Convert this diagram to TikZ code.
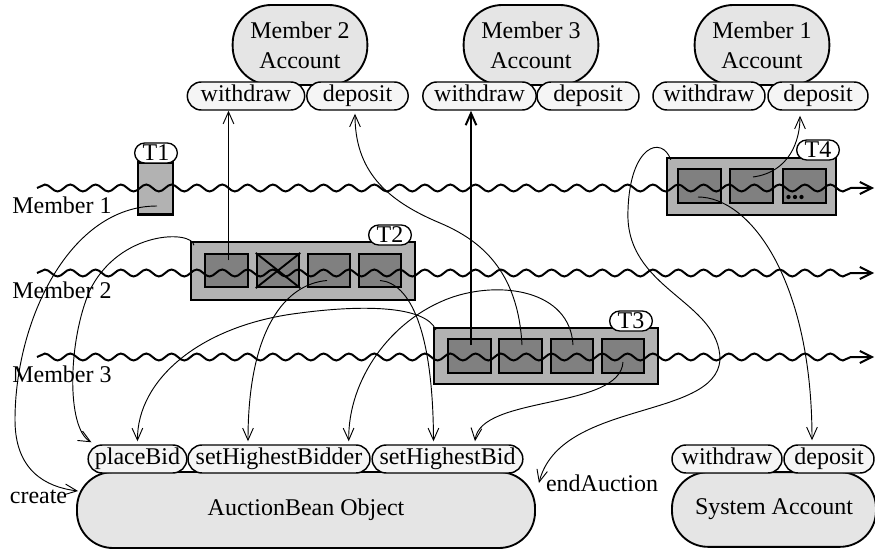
\documentclass[tikz,border=0pt]{standalone}
\usepackage{fontspec}
\setmainfont{Liberation Serif}
\usetikzlibrary{arrows.meta,decorations.pathmorphing,calc}

\definecolor{acctgray}{gray}{0.9}
\definecolor{methgray}{gray}{0.96}
\definecolor{txgray}{gray}{0.7}
\definecolor{opgray}{gray}{0.5}

\tikzset{
  acct/.style={draw, line width=1.4pt, fill=acctgray, rounded corners=29pt, align=center, inner sep=0pt},
  meth/.style={draw, line width=1.1pt, fill=methgray, rounded corners=10.5pt, inner sep=0pt, minimum height=21pt, text height=12.5pt, text depth=4pt},
  txbox/.style={draw, line width=1.6pt, fill=txgray, inner sep=0pt},
  opbox/.style={draw, line width=1.4pt, fill=opgray, inner sep=0pt, minimum width=32pt, minimum height=25pt},
  txlabel/.style={draw, line width=1pt, fill=white, rounded corners=7.5pt, inner sep=0pt, minimum width=32pt, minimum height=15pt, text height=12.5pt, text depth=1pt},
  thread/.style={line width=1.5pt, decorate, decoration={snake, segment length=19pt, amplitude=2.6pt, post length=8pt}, -{Straight Barb[length=9pt,width=9pt]}},
  call/.style={line width=0.7pt, -{Straight Barb[length=9pt,width=8pt]}},
}

\begin{document}
\begin{tikzpicture}[x=0.75pt, y=-0.75pt, font=\fontsize{18}{22.5}\selectfont]
  \useasboundingbox (0,0) rectangle (875,549);
  % Comptes et objet
  \node[acct, minimum width=101pt, minimum height=60pt] (m2acc) at (300,45) {Member 2\\Account};
  \node[acct, minimum width=101pt, minimum height=60pt] (m3acc) at (531,45) {Member 3\\Account};
  \node[acct, minimum width=101pt, minimum height=60pt] (m1acc) at (762,45) {Member 1\\Account};
  \node[acct, rounded corners=27pt, minimum width=343.5pt, minimum height=57pt] (ab) at (306,510) {AuctionBean Object};
  \node[acct, rounded corners=27pt, minimum width=153pt, minimum height=56pt] (sys) at (774,509.5) {System Account};
  % Methodes
  \node[meth, minimum width=88pt] (m2w) at (246,96) {withdraw};
  \node[meth, minimum width=76pt] (m2d) at (357.5,96) {deposit};
  \node[meth, minimum width=85pt] (m3w) at (479.5,96) {withdraw};
  \node[meth, minimum width=76.5pt] (m3d) at (588,96) {deposit};
  \node[meth, minimum width=84pt] (m1w) at (709,96) {withdraw};
  \node[meth, minimum width=75pt] (m1d) at (818,96) {deposit};
  \node[meth, minimum width=74pt] (pb) at (137.5,459) {placeBid};
  \node[meth, minimum width=136.5pt] (shbr) at (279,459) {setHighestBidder};
  \node[meth, minimum width=113pt] (shbid) at (447.5,459) {setHighestBid};
  \node[meth, minimum width=82.5pt] (sw) at (727,459) {withdraw};
  \node[meth, minimum width=67.5pt] (sd) at (829,459) {deposit};
  % Transactions
  \node[txbox, minimum width=26pt, minimum height=39pt] (t1) at (155.5,188.5) {};
  \node[txbox, minimum width=168pt, minimum height=43pt] (t2) at (303,271) {};
  \node[txbox, minimum width=168pt, minimum height=42pt] (t3) at (546,356) {};
  \node[txbox, minimum width=127pt, minimum height=43pt] (t4) at (751.5,186.5) {};
  \foreach \n/\x in {a/226.5, b/278, c/329, d/380} {
    \node[opbox] (t2\n) at (\x,270.5) {};
  }
  \foreach \n/\x in {a/469.5, b/520.5, c/572, d/623} {
    \node[opbox] (t3\n) at (\x,356) {};
  }
  \foreach \n/\x in {a/699.5, b/751.5, c/804.5} {
    \node[opbox] (t4\n) at (\x,186) {};
  }
  \draw[line width=1.4pt] (t2b.north west) -- (t2b.south east) (t2b.north east) -- (t2b.south west);
  \foreach \dx in {-16,-9.5,-3} {
    \fill ($(t4c)+(\dx,11)$) circle (1.6pt);
  }
  \node[txlabel] (t1lbl) at (156,153) {T1};
  \node[txlabel] (t2lbl) at (390,235) {T2};
  \node[txlabel] (t3lbl) at (631,321) {T3};
  \node[txlabel] (t4lbl) at (818,150) {T4};
  % Fils d'execution
  \coordinate (m1s) at (37,188); \coordinate (m1e) at (874,188);
  \coordinate (m2s) at (37,273); \coordinate (m2e) at (874,273);
  \coordinate (m3s) at (37,357); \coordinate (m3e) at (874,357);
  \draw[thread] (m1s) -- (m1e);
  \draw[thread] (m2s) -- (m2e);
  \draw[thread] (m3s) -- (m3e);
  \node[anchor=west, inner sep=0pt] (m1lbl) at (12,205) {Member 1};
  \node[anchor=west, inner sep=0pt] (m2lbl) at (12,290) {Member 2};
  \node[anchor=west, inner sep=0pt] (m3lbl) at (12,374) {Member 3};
  \node (crlbl) at (38.5,497) {create};
  \node (ealbl) at (602,483) {endAuction};
  % Appels
  \coordinate (c1) at ($(t1)+(1.5,17.5)$);
  \draw[call] (c1) .. controls (70,206) and (15,320) .. (15,420) .. controls (15,470) and (45,487) .. ($(ab.west)+(2,-19)$);
  \coordinate (c2) at ($(t2.north west)+(4,4)$);
  \draw[call] (c2) .. controls (192,230) and (120,230) .. (90,290) .. controls (68,340) and (66,428) .. ($(pb.north west)+(4,-2)$);
  \coordinate (c3) at ($(t2a)+(2,-10)$);
  \draw[call] (c3) -- (c3 |- m2w.south);
  \coordinate (c4) at ($(t2c)+(-2,10)$);
  \draw[call] (c4) .. controls (285,284) and (248,330) .. ($(shbr.north)+(-31,-3)$);
  \coordinate (c5) at ($(t2d)+(0,10)$);
  \draw[call] (c5) .. controls (410,283) and (433,330) .. ($(shbid.north)+(-14,-3)$);
  \coordinate (c6) at ($(t3.north west)+(3,3)$);
  \draw[call] (c6) .. controls (425,305) and (360,305) .. (300,313) .. controls (200,325) and (137,380) .. ($(pb.north)+(0,-3)$);
  \coordinate (c7) at ($(t3a)+(1.5,-11)$);
  \draw[call, line width=1.5pt] (c7) -- (c7 |- m3w.south);
  \coordinate (c8) at ($(t3b)+(1.5,-11)$);
  \draw[call] (c8) .. controls (518,270) and (480,240) .. (440,223) .. controls (385,200) and (355,170) .. ($(m2d.south)+(-2.5,3)$);
  \coordinate (c9) at ($(t3c)+(1,-11)$);
  \draw[call] (c9) .. controls (570,290) and (500,280) .. (450,298) .. controls (390,320) and (348,380) .. ($(shbr.north east)+(-22,-3)$);
  \coordinate (c10) at ($(t3d)+(0,6)$);
  \draw[call] (c10) .. controls (620,410) and (480,395) .. ($(shbid.north)+(27.5,-3)$);
  \coordinate (c11) at ($(t4.north west)+(5,3)$);
  \draw[call] (c11) .. controls (662,135) and (630,145) .. (628,210) .. controls (624,290) and (720,300) .. (720,360) .. controls (715,420) and (560,400) .. ($(ab.east)+(3,-27)$);
  \coordinate (c12) at ($(t4a)+(-1.5,11)$);
  \draw[call] (c12) .. controls (750,197) and (812,280) .. ($(sd.north)+(-17,-4)$);
  \coordinate (c13) at ($(t4b)+(1.5,-9)$);
  \draw[call] (c13) .. controls (790,172) and (800,140) .. ($(m1d.south)+(-18,5)$);
\end{tikzpicture}
\end{document}
